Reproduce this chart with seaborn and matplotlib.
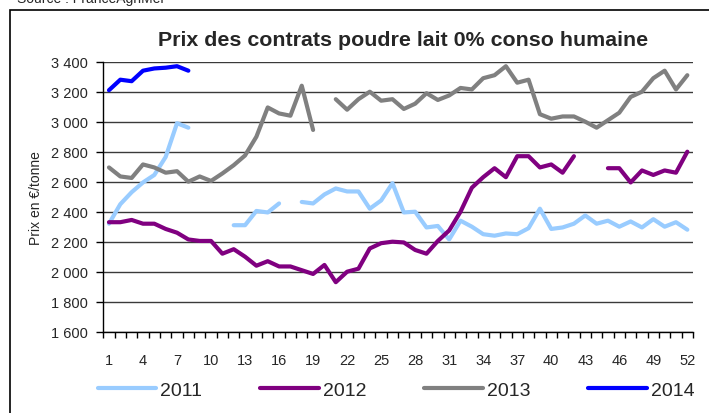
import numpy as np
import pandas as pd
import matplotlib
matplotlib.use("Agg")
import matplotlib.pyplot as plt
import seaborn as sns
from matplotlib.patches import Rectangle
from matplotlib.lines import Line2D

nan = np.nan
weeks = list(range(1, 53))

prix_2011 = [2320, 2450, 2530, 2595, 2645, 2765, 2990, 2960, nan, nan,
             nan, 2310, 2310, 2405, 2395, 2455, nan, 2465, 2455, 2515,
             2555, 2535, 2535, 2420, 2475, 2590, 2395, 2400, 2295, 2305,
             2215, 2340, 2300, 2250, 2240, 2255, 2250, 2290, 2420, 2285,
             2295, 2320, 2375, 2320, 2340, 2300, 2335, 2295, 2350, 2300,
             2330, 2280]
prix_2012 = [2330, 2330, 2345, 2320, 2320, 2285, 2260, 2215, 2205, 2205,
             2120, 2150, 2100, 2040, 2070, 2035, 2035, 2010, 1985, 2045,
             1930, 2000, 2020, 2155, 2190, 2200, 2195, 2145, 2120, 2205,
             2275, 2400, 2560, 2630, 2690, 2630, 2770, 2770, 2695, 2715,
             2660, 2770, nan, nan, 2690, 2690, 2595, 2675, 2645, 2675,
             2660, 2800]
prix_2013 = [2695, 2635, 2625, 2715, 2695, 2660, 2670, 2600, 2635, 2605,
             2655, 2710, 2775, 2900, 3095, 3055, 3040, 3240, 2945, nan,
             3150, 3080, 3150, 3200, 3140, 3150, 3085, 3120, 3190, 3145,
             3175, 3225, 3215, 3290, 3310, 3370, 3260, 3280, 3050, 3020,
             3035, 3035, 3000, 2960, 3010, 3060, 3165, 3200, 3290, 3340,
             3215, 3310]
prix_2014 = [3210, 3280, 3270, 3340, 3355, 3360, 3370, 3340] + [nan] * 44

years = ["2011", "2012", "2013", "2014"]
colors = ["#99CCFF", "#800080", "#808080", "#0000FF"]
y_ticks = [1600, 1800, 2000, 2200, 2400, 2600, 2800, 3000, 3200, 3400]
x_tick_labels = list(range(1, 53, 3))

title = "Prix des contrats poudre lait 0% conso humaine"
ylabel = "Prix en €/tonne"
source = "Source : FranceAgriMer"

# long-form table; each contiguous run of weeks is its own unit so gaps stay gaps
rows = []
for yr, vals in zip(years, [prix_2011, prix_2012, prix_2013, prix_2014]):
    seg = 0
    gap = True
    for w, v in zip(weeks, vals):
        if np.isnan(v):
            gap = True
            continue
        if gap:
            seg += 1
            gap = False
        rows.append({"semaine": w, "prix": v, "annee": yr, "seg": f"{yr}-{seg}"})
df = pd.DataFrame(rows)

sns.set_style("white")
plt.rcParams["font.family"] = ["Liberation Sans", "DejaVu Sans"]

W, H = 709, 414
fig = plt.figure(figsize=(W / 100, H / 100), dpi=100)
x0, x1, yt, yb = 103.3, 693.0, 62.7, 332.7
ax = fig.add_axes([x0 / W, 1 - yb / H, (x1 - x0) / W, (yb - yt) / H])

palette = dict(zip(years, colors))
sns.lineplot(data=df, x="semaine", y="prix", hue="annee", units="seg",
             estimator=None, palette=palette, lw=3, legend=False, ax=ax,
             solid_capstyle="round", solid_joinstyle="round", zorder=3)

ax.set_xlim(0.5, 52.5)
ax.set_ylim(1600, 3400)
ax.set_yticks(y_ticks)
ax.set_yticklabels([f"{v:,}".replace(",", " ") for v in y_ticks])
ax.set_xticks(x_tick_labels)
ax.set_xticklabels([str(v) for v in x_tick_labels])
ax.set_xticks(np.arange(0.5, 53, 1), minor=True)
ax.tick_params(axis="x", which="major", length=0, pad=15, labelsize=10.5)
ax.tick_params(axis="x", which="minor", length=4, width=1, color="black",
               direction="out", bottom=True)
ax.tick_params(axis="y", length=5, width=1, color="black", direction="out",
               left=True, pad=6, labelsize=10.5)
ax.yaxis.grid(True, color="#3a3a3a", lw=1)
ax.xaxis.grid(False)
ax.set_axisbelow(True)
for s in ["top", "right"]:
    ax.spines[s].set_visible(False)
for s in ["left", "bottom"]:
    ax.spines[s].set_color("black")
    ax.spines[s].set_linewidth(1)
ax.set_xlabel("")
ax.set_ylabel("")

fig.text(403 / W, 1 - 40 / H, title, ha="center", va="center",
         fontsize=15.4, fontweight="bold")
fig.text(36 / W, 1 - 198 / H, ylabel, rotation=90, ha="center", va="center",
         fontsize=10)
fig.text(17 / W, 1 - 3 / H, source, va="baseline", fontsize=10)

fig.add_artist(Rectangle((10 / W, -0.5), 2, 1 - 11 / H + 0.5,
                         transform=fig.transFigure, fill=False,
                         ec="black", lw=1.2))

handles = [Line2D([0], [0], color=c, lw=3, solid_capstyle="round") for c in colors]
fig.legend(handles, years, ncol=4, loc="center",
           bbox_to_anchor=(396 / W, 1 - 391 / H), frameon=False,
           fontsize=14, handlelength=3.0, handletextpad=0.2,
           columnspacing=3.0)

fig.savefig("out.png", dpi=100)
